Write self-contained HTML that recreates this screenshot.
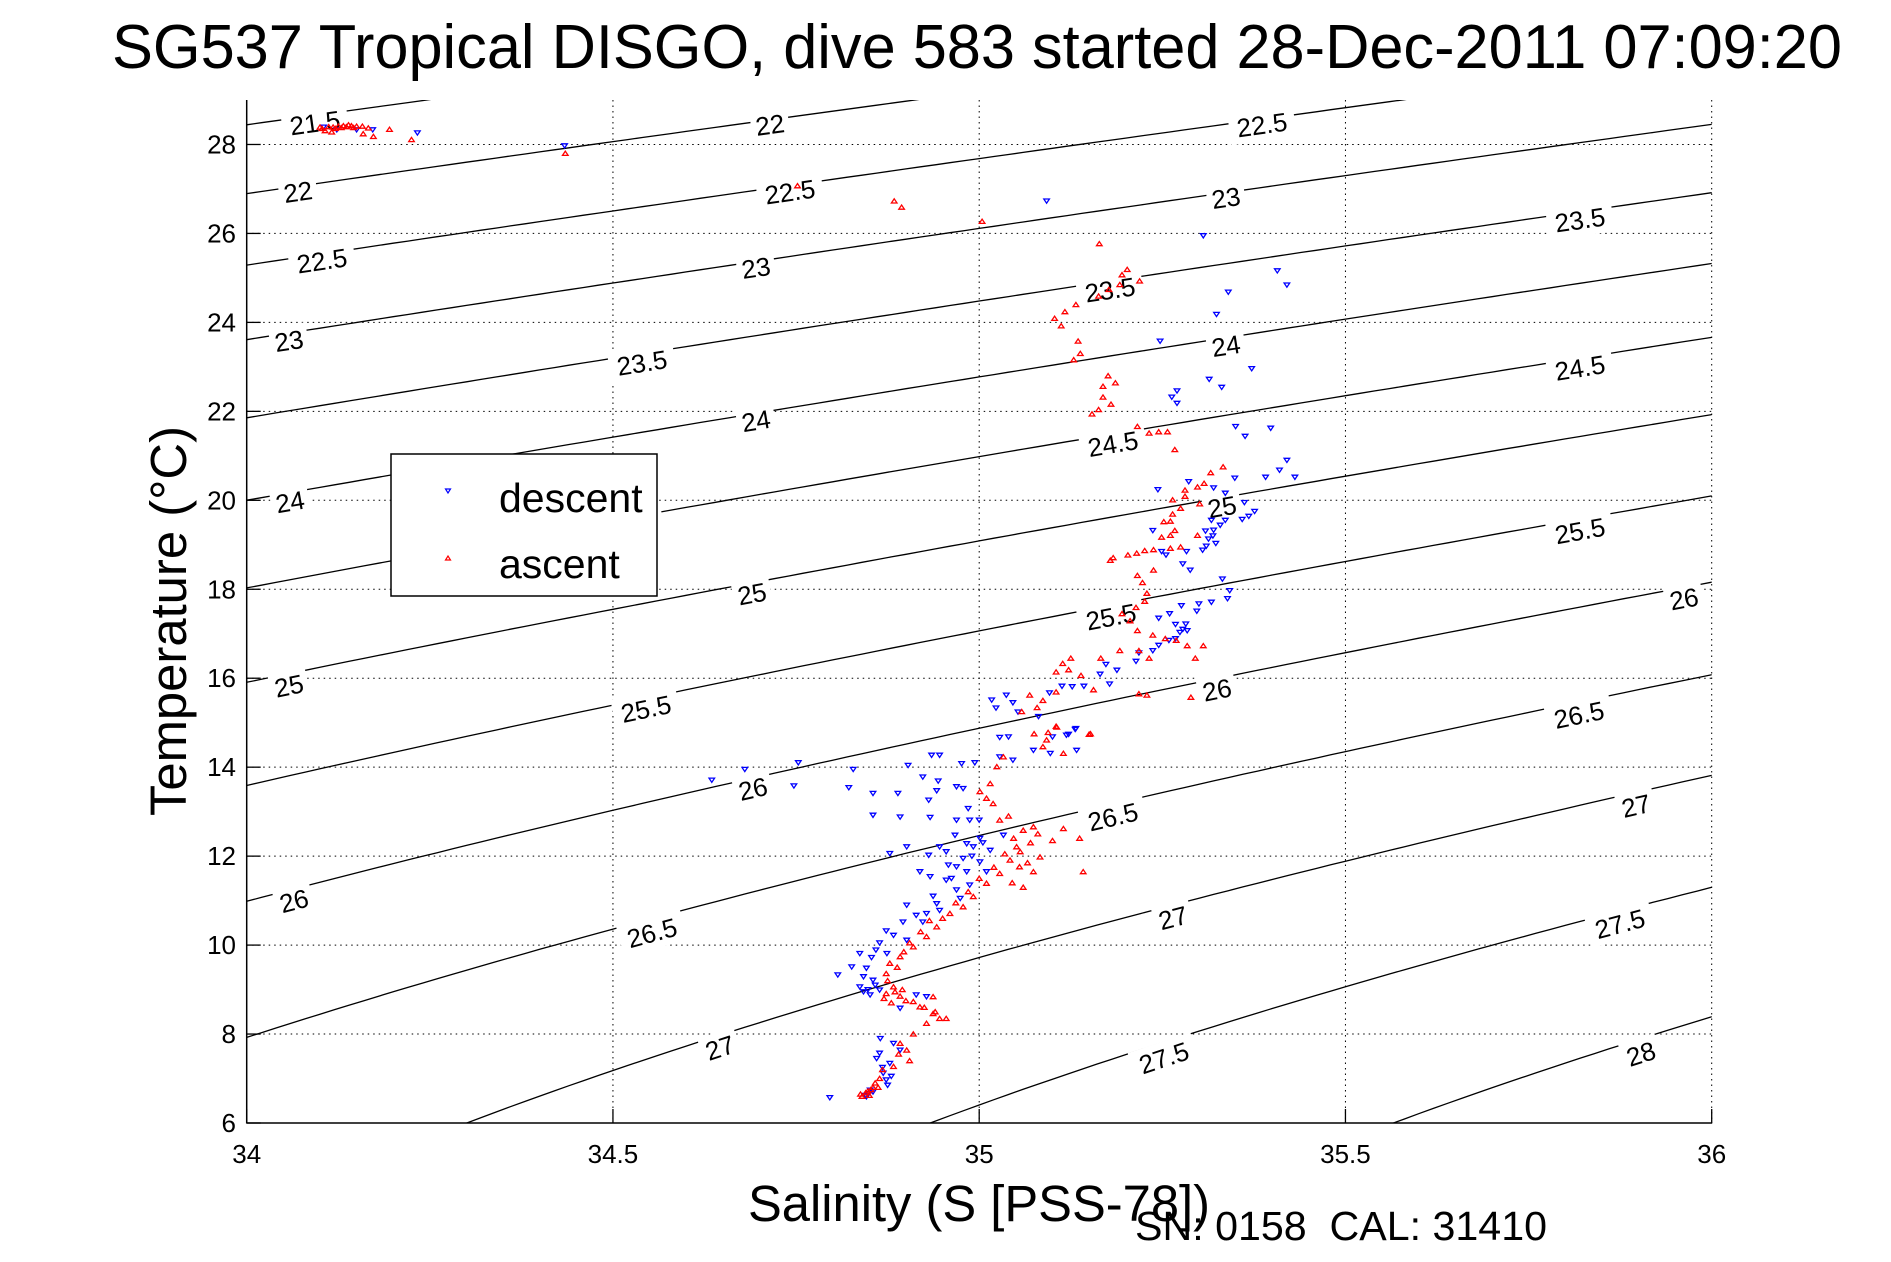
<!DOCTYPE html>
<html><head><meta charset="utf-8"><style>
html,body{margin:0;padding:0;background:#fff;overflow:hidden;width:1891px;height:1262px}
svg{display:block;font-family:"Liberation Sans",sans-serif}
</style></head><body>
<svg id="chart" width="1891" height="1262" viewBox="0 0 1891 1262" xmlns="http://www.w3.org/2000/svg" overflow="hidden">
<rect width="1891" height="1262" fill="#fff"/>
<text x="112" y="68" font-size="62" textLength="1730" lengthAdjust="spacingAndGlyphs">SG537 Tropical DISGO, dive 583 started 28-Dec-2011 07:09:20</text>
<g id="grid"></g>
<g id="contours"></g>
<g id="marks"></g>
<g id="axes"></g>
<text x="748" y="1221" font-size="51" textLength="462" lengthAdjust="spacingAndGlyphs">Salinity (S [PSS-78])</text>
<text transform="translate(186,816) rotate(-90)" font-size="51" textLength="390" lengthAdjust="spacingAndGlyphs">Temperature (°C)</text>
<text x="1135" y="1240" font-size="41" textLength="412" lengthAdjust="spacingAndGlyphs" xml:space="preserve">SN: 0158  CAL: 31410</text>
<g>
<rect x="391" y="454" width="266" height="142" fill="#fff" stroke="#000" stroke-width="1.5"/>
<path d="M445.5,489 L450.5,489 L448,493 Z" fill="none" stroke="#00f" stroke-width="1.2"/>
<text x="499" y="512" font-size="41">descent</text>
<path d="M445.5,560 L450.5,560 L448,556 Z" fill="none" stroke="#f00" stroke-width="1.2"/>
<text x="499" y="578" font-size="41">ascent</text>
</g>
</svg>
<script>
const xTicks=[34,34.5,35,35.5,36];
const yTicks=[6,8,10,12,14,16,18,20,22,24,26,28];
const xTickLabels=["34","34.5","35","35.5","36"];
const yTickLabels=["6","8","10","12","14","16","18","20","22","24","26","28"];
const sigmaLevels=[21.5,22,22.5,23,23.5,24,24.5,25,25.5,26,26.5,27,27.5,28];
const labelText=["21.5","22","22.5","22","22.5","23","23.5","22.5","23","23.5","24","24.5","23","23.5","24","24.5","25","25.5","24","24.5","25","25.5","26","26","25","25.5","26","26.5","26.5","27","26","26.5","27","27.5","27","27.5","28"];
const labelAt=[[315,123],[770,125],[1262,125],[298,192],[790,192],[1226,198],[1580,220],[322,261],[756,268],[1110,290],[1226,346],[1580,368],[289,341],[642,363],[756,421],[1113,444],[1222,507],[1580,531],[290,502],[630,524],[752,594],[1111,617],[1217,690],[1684,599],[289,686],[646,709],[753,789],[1113,817],[1579,715],[1636,806],[294,901],[652,933],[1173,918],[1620,924],[720,1048],[1164,1058],[1641,1054]];
// descent (blue) salinity, temperature
const descentS=[34.105,34.123,34.150,34.172,34.233,34.434,35.092,35.306,35.407,35.420,35.340,35.324,35.247,35.372,35.314,35.331,35.270,35.263,35.270,35.350,35.363,35.398,35.420,35.410,35.391,35.431,35.349,35.286,35.244,35.320,35.336,35.362,35.359,35.368,35.376,35.336,35.317,35.329,35.320,35.309,35.319,35.313,35.323,35.310,35.305,35.283,35.255,35.249,35.237,35.278,35.288,35.332,35.342,35.339,35.317,35.300,35.276,35.297,35.260,35.245,35.268,35.282,35.278,35.274,35.284,35.268,35.259,35.245,35.237,35.218,35.214,35.188,35.173,35.165,35.178,35.143,35.127,35.113,35.096,35.081,35.053,35.046,35.037,35.017,35.023,35.132,35.122,35.100,35.040,35.028,
34.635,34.680,34.753,34.747,34.828,34.822,34.855,34.889,34.855,34.892,34.903,34.946,34.935,34.976,34.994,34.923,34.944,34.942,34.969,34.978,34.931,34.933,34.969,34.987,35.000,34.985,35.028,35.074,35.097,35.133,35.131,35.119,35.046,
34.967,34.946,34.955,34.983,34.992,35.001,35.015,35.033,34.901,34.878,34.931,34.978,35.001,34.969,34.983,35.010,34.919,34.933,34.955,34.987,34.969,34.937,34.974,34.942,34.901,34.946,34.928,34.914,34.896,34.923,34.873,34.883,34.901,34.864,34.859,34.874,34.837,34.853,34.826,34.846,34.807,34.842,34.855,34.837,34.864,34.842,34.851,34.892,34.914,34.928,34.865,34.883,34.892,34.864,34.878,34.869,34.873,34.851,34.846,34.796,34.958,34.990,34.962,35.005,34.860,34.868,34.880,34.875,34.858,34.848,34.855,34.845,34.849];
const descentT=[28.39,28.33,28.33,28.33,28.26,27.97,26.73,25.95,25.16,24.84,24.68,24.18,23.58,22.96,22.72,22.54,22.46,22.32,22.18,21.66,21.44,21.62,20.90,20.68,20.52,20.52,20.50,20.42,20.24,20.28,20.16,19.95,19.57,19.64,19.75,19.55,19.55,19.44,19.33,19.31,19.20,19.13,19.03,18.97,18.88,18.85,18.77,18.85,19.32,18.57,18.43,18.23,17.97,17.79,17.71,17.67,17.63,17.51,17.45,17.35,17.21,17.22,17.10,17.03,17.07,16.89,16.85,16.74,16.62,16.57,16.38,16.18,16.31,16.09,15.87,15.82,15.81,15.82,15.67,15.14,15.24,15.45,15.62,15.51,15.33,14.87,14.74,14.68,14.68,14.67,
13.71,13.95,14.10,13.58,13.95,13.54,13.41,13.41,12.92,12.88,14.04,14.27,14.27,14.08,14.10,13.78,13.69,13.47,13.56,13.52,13.26,12.87,12.81,12.81,12.81,13.07,14.23,14.38,14.31,14.38,14.85,14.72,14.16,
12.47,12.21,12.10,12.28,12.21,12.40,12.13,12.47,12.21,12.06,12.02,11.95,11.87,11.76,11.65,11.65,11.65,11.54,11.46,11.35,11.24,11.10,11.05,10.93,10.90,10.78,10.71,10.67,10.52,10.52,10.32,10.22,10.11,10.05,9.89,9.81,9.81,9.72,9.51,9.48,9.33,9.29,9.21,9.06,8.99,8.95,8.88,8.58,8.88,8.84,7.90,7.79,7.64,7.57,7.34,7.12,6.97,6.74,6.59,6.57,11.80,12.00,11.50,12.30,7.45,7.25,7.05,6.85,9.10,9.00,6.70,6.62,6.66];
// ascent (red) salinity, temperature
const ascentS=[34.100,34.107,34.116,34.118,34.125,34.132,34.139,34.143,34.150,34.158,34.166,34.159,34.173,34.195,34.225,34.435,34.103,34.112,34.121,34.129,34.136,34.146,
34.752,34.884,34.894,35.004,35.164,35.202,35.195,35.219,35.192,35.177,35.163,35.132,35.117,35.103,35.112,35.135,35.138,35.129,35.176,35.186,35.169,35.169,35.180,35.163,35.154,35.216,35.232,35.245,35.257,35.267,35.333,35.316,35.307,35.298,35.281,35.264,35.281,35.301,35.275,35.264,35.261,35.252,35.267,35.249,35.261,35.298,35.275,35.261,35.238,35.226,35.215,35.203,35.183,35.179,35.238,35.216,35.223,35.229,35.226,35.214,35.195,35.206,35.216,35.237,35.254,35.269,35.284,35.306,35.295,35.232,35.218,35.192,35.166,35.125,35.114,35.105,35.122,35.139,35.156,35.105,35.087,35.069,35.079,35.058,35.218,35.229,35.289,35.094,35.075,35.152,35.105,
34.840,34.845,34.850,34.848,34.838,34.855,34.864,34.883,34.901,34.892,34.910,34.928,34.946,34.937,34.919,34.910,34.937,34.892,34.873,34.883,34.873,34.878,34.892,34.910,34.928,34.942,34.960,34.978,34.992,35.010,35.028,35.042,35.051,35.060,35.074,35.028,35.019,35.001,35.015,35.024,35.033,35.092,35.106,
35.115,35.137,35.142,35.083,35.074,35.055,35.150,35.087,35.115,34.955,34.870,34.875,34.888,34.897,34.905,34.920,34.932,34.950,34.968,34.985,35.000,35.020,35.035,35.047,35.056,35.066,35.040,35.010,34.880,34.885,34.895,34.900,34.925,34.940,34.905,34.890,34.868,34.858,34.852,34.862,35.045,35.060,35.070,35.080,35.100];
const ascentT=[28.39,28.31,28.28,28.39,28.41,28.42,28.44,28.42,28.41,28.41,28.37,28.24,28.18,28.34,28.11,27.80,28.36,28.40,28.36,28.38,28.40,28.38,
27.07,26.73,26.59,26.27,25.77,25.19,25.07,24.93,24.85,24.74,24.59,24.40,24.24,24.09,23.92,23.58,23.30,23.16,22.80,22.64,22.56,22.32,22.16,22.04,21.94,21.66,21.51,21.54,21.54,21.14,20.75,20.62,20.38,20.30,20.23,20.01,20.09,19.92,19.82,19.69,19.53,19.52,19.32,19.17,19.21,19.21,18.95,18.92,18.89,18.87,18.81,18.77,18.71,18.65,18.43,18.31,18.15,17.91,17.73,17.59,17.45,17.29,17.07,16.97,16.89,16.85,16.73,16.73,16.45,16.45,16.62,16.62,16.45,16.45,16.33,16.14,16.19,16.06,15.74,15.69,15.50,15.62,15.34,15.25,15.65,15.62,15.57,14.78,14.75,14.75,14.92,
6.60,6.68,6.62,6.72,6.65,6.80,7.00,7.27,7.64,7.79,8.00,8.24,8.35,8.46,8.61,8.73,8.84,8.85,8.91,9.06,9.36,9.59,9.74,9.96,10.19,10.41,10.71,10.86,11.09,11.39,11.61,11.91,12.21,12.58,12.66,12.81,13.18,13.45,13.63,14.01,14.23,14.61,14.90,
12.62,12.40,11.65,11.98,11.65,11.76,14.74,14.46,14.31,8.35,8.80,9.20,9.50,9.85,10.05,10.30,10.55,10.60,10.95,11.20,11.50,11.75,12.05,12.40,12.10,11.85,12.90,13.30,8.70,8.95,9.00,8.75,8.60,8.50,7.40,7.55,7.20,6.90,6.75,6.80,11.40,11.30,12.30,12.50,12.35];

const NS='http://www.w3.org/2000/svg';
const X0=246.7,X1=1711.7,Y0=1123,Y1=100;
const xScale=s=>X0+(s-34)/2*(X1-X0);
const yScale=t=>Y0-(t-6)/23*(Y0-Y1);
const invX=px=>34+(px-X0)/(X1-X0)*2;
const invY=py=>6+(Y0-py)/(Y0-Y1)*23;
function mk(tag,attrs,parent){const e=document.createElementNS(NS,tag);for(const k in attrs)e.setAttribute(k,attrs[k]);parent.appendChild(e);return e;}
function sigma(S,T){
 const rw=999.842594+6.793952e-2*T-9.095290e-3*T*T+1.001685e-4*T**3-1.120083e-6*T**4+6.536332e-9*T**5;
 const A=0.824493-4.0899e-3*T+7.6438e-5*T*T-8.2467e-7*T**3+5.3875e-9*T**4;
 const B=-5.72466e-3+1.0227e-4*T-1.6546e-6*T*T;
 return rw+A*S+B*Math.pow(S,1.5)+4.8314e-4*S*S-1000;
}
function solveT(S,lev){let lo=-2,hi=40;for(let i=0;i<50;i++){const m=(lo+hi)/2;if(sigma(S,m)>lev)lo=m;else hi=m;}return (lo+hi)/2;}

const grid=document.getElementById('grid');
xTicks.forEach((v,i)=>{ if(i>0){const l=mk('line',{x1:xScale(v),x2:xScale(v),y1:Y1,y2:Y0,stroke:'#000','stroke-width':1,'stroke-dasharray':'1.5,4'},grid);

}});
yTicks.forEach((v,i)=>{ if(i>0){const l=mk('line',{x1:X0,x2:X1,y1:yScale(v),y2:yScale(v),stroke:'#000','stroke-width':1,'stroke-dasharray':'1.5,4'},grid);

}});

const cg=document.getElementById('contours');
const defs=mk('defs',{},cg);
const cp=mk('clipPath',{id:'plotclip'},defs);
mk('rect',{x:X0,y:Y1,width:X1-X0,height:Y0-Y1},cp);
const lineG=mk('g',{'clip-path':'url(#plotclip)'},cg);
sigmaLevels.forEach(lev=>{
 let pts=[];
 for(let s=33.9;s<=36.1001;s+=0.02){const t=solveT(s,lev);pts.push(xScale(s).toFixed(1)+','+yScale(t).toFixed(1));}
 const p=mk('polyline',{points:pts.join(' '),fill:'none',stroke:'#000','stroke-width':1.3},lineG);
 
 
});
labelText.forEach((txt,i)=>{
 const [px,py]=labelAt[i];
 const S=invX(px),T=invY(py),h=1e-4;
 const dS=(sigma(S+h,T)-sigma(S-h,T))/(2*h), dT=(sigma(S,T+h)-sigma(S,T-h))/(2*h);
 const slope=-dS/dT;
 const pxPerS=(X1-X0)/2, pxPerT=(Y0-Y1)/23;
 const ang=Math.atan2(-slope*pxPerT,pxPerS)*180/Math.PI;
 const g=mk('g',{transform:`translate(${px},${py}) rotate(${ang.toFixed(1)})`},cg);
 
 
 const w=txt.length*14+10;
 mk('rect',{x:-w/2,y:-16,width:w,height:32,fill:'#fff'},g);
 mk('text',{x:0,y:9,'font-size':26,'text-anchor':'middle'},g).textContent=txt;
});

const mg=document.getElementById('marks');
descentS.forEach((s,i)=>{const x=xScale(s),y=yScale(descentT[i]);
 const m=mk('path',{d:`M${(x-2.8).toFixed(1)},${(y-2).toFixed(1)} L${(x+2.8).toFixed(1)},${(y-2).toFixed(1)} L${x.toFixed(1)},${(y+2.2).toFixed(1)} Z`,fill:'none',stroke:'#00f','stroke-width':1.3},mg);
 
 });
ascentS.forEach((s,i)=>{const x=xScale(s),y=yScale(ascentT[i]);
 const m=mk('path',{d:`M${(x-2.8).toFixed(1)},${(y+2).toFixed(1)} L${(x+2.8).toFixed(1)},${(y+2).toFixed(1)} L${x.toFixed(1)},${(y-2.2).toFixed(1)} Z`,fill:'none',stroke:'#f00','stroke-width':1.3},mg);
 
 });

const ax=document.getElementById('axes');
mk('line',{x1:X0,x2:X0,y1:Y1,y2:Y0+0.5,stroke:'#000','stroke-width':1.5},ax);
mk('line',{x1:X0,x2:X1+0.5,y1:Y0,y2:Y0,stroke:'#000','stroke-width':1.5},ax);
xTicks.forEach((v,i)=>{const x=xScale(v);
 mk('line',{x1:x,x2:x,y1:Y0,y2:Y0-14,stroke:'#000','stroke-width':1.3},ax);
 const t=mk('text',{x:x,y:1163,'font-size':26,'text-anchor':'middle'},ax);
 t.textContent=xTickLabels[i];
 
 });
yTicks.forEach((v,i)=>{const y=yScale(v);
 mk('line',{x1:X0,x2:X0+14,y1:y,y2:y,stroke:'#000','stroke-width':1.3},ax);
 const t=mk('text',{x:236,y:y+9,'font-size':26,'text-anchor':'end'},ax);
 t.textContent=yTickLabels[i];
 
 });
</script>
</body></html>
